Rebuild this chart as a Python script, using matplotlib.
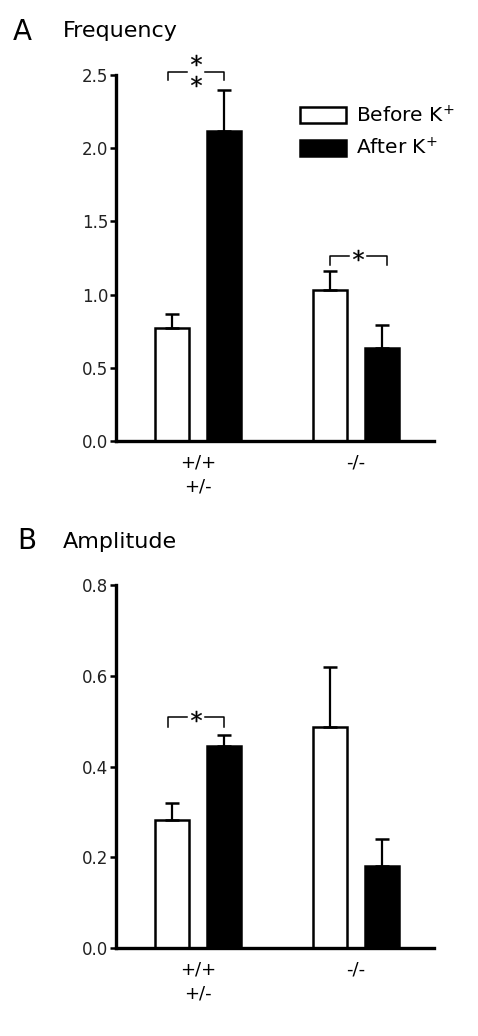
import numpy as np
import matplotlib
matplotlib.use("Agg")
from matplotlib import pyplot as plt
from matplotlib.patches import Patch

plt.rcParams['font.family'] = ['DejaVu Sans']

# Data
genotypes = ["+/+\n+/-", "-/-"]
freq_before = [0.77, 1.03]
freq_before_err = [0.10, 0.13]
freq_after = [2.12, 0.635]
freq_after_err = [0.28, 0.155]

amp_before = [0.282, 0.488]
amp_before_err = [0.038, 0.132]
amp_after = [0.445, 0.181]
amp_after_err = [0.024, 0.059]

freq_ticks = [0.0, 0.5, 1.0, 1.5, 2.0, 2.5]
amp_ticks = [0.0, 0.2, 0.4, 0.6, 0.8]

x = np.arange(len(genotypes))
offset = 0.165
width = 0.215


def star(ax, xs, ys):
  ax.plot([xs], [ys], marker="$*$", ms=8, color="black", mew=0.2,
          linestyle="none", clip_on=False)


def bracket(ax, x1, x2, y, drop, gap=0.055):
  """Significance bracket with a star sitting in a gap of the line."""
  xm = (x1 + x2) / 2
  kw = dict(color="black", lw=1.1, clip_on=False)
  ax.plot([x1, x1, xm - gap], [y - drop, y, y], **kw)
  ax.plot([xm + gap, x2, x2], [y, y, y - drop], **kw)
  return xm


def bar_panel(ax, before, before_err, after, after_err, ylim, ticks):
  kw = dict(width=width, edgecolor="black", linewidth=1.8, zorder=2)
  ekw = dict(elinewidth=1.6, capthick=1.8)
  ax.bar(x - offset, before, color="white",
         yerr=[[0] * len(before), before_err], capsize=5, error_kw=ekw, **kw)
  ax.bar(x + offset, after, color="black",
         yerr=[[0] * len(after), after_err], capsize=5, error_kw=ekw, **kw)

  ax.set_xlim(-0.52, 1.495)
  ax.set_ylim(*ylim)
  ax.set_yticks(ticks)
  ax.set_yticklabels(["%.1f" % t for t in ticks], fontsize=12, color="#222222")
  ax.set_xticks(x)
  ax.set_xticklabels(genotypes, fontsize=13, linespacing=1.45)
  ax.tick_params(axis="x", length=0, pad=9)
  ax.tick_params(axis="y", length=4, width=1.8, pad=1.5)
  for s in ["top", "right"]:
    ax.spines[s].set_visible(False)
  for s in ["left", "bottom"]:
    ax.spines[s].set_linewidth(2.4)


fig = plt.figure(figsize=(4.78, 10.36), dpi=100)

axA = fig.add_axes([0.2427, 0.5743, 0.665, 0.3533])
bar_panel(axA, freq_before, freq_before_err, freq_after, freq_after_err,
          (0, 2.5), freq_ticks)
xm = bracket(axA, x[0] - offset - 0.025, x[0] + offset, 2.52, 0.055)
star(axA, xm, 2.46)
star(axA, xm, 2.60)
xm = bracket(axA, x[1] - offset, x[1] + offset + 0.03, 1.264, 0.06)
star(axA, xm, 1.27)

legend_handles = [Patch(facecolor="white", edgecolor="black", linewidth=1.8),
                  Patch(facecolor="black", edgecolor="black", linewidth=1.8)]
axA.legend(legend_handles, ["Before K$^{+}$", "After K$^{+}$"],
           loc="upper left", bbox_to_anchor=(0.578, 0.918), frameon=False,
           fontsize=14.5, handlelength=2.3, handleheight=0.85,
           handletextpad=0.5, labelspacing=0.55, borderpad=0,
           borderaxespad=0)

fig.text(0.027, 0.9614, "A", fontsize=20)
fig.text(0.132, 0.9643, "Frequency", fontsize=16)

axB = fig.add_axes([0.2427, 0.0849, 0.665, 0.3504])
bar_panel(axB, amp_before, amp_before_err, amp_after, amp_after_err,
          (0, 0.8), amp_ticks)
xm = bracket(axB, x[0] - offset - 0.025, x[0] + offset, 0.51, 0.023)
star(axB, xm, 0.512)

fig.text(0.036, 0.470, "B", fontsize=20)
fig.text(0.132, 0.4715, "Amplitude", fontsize=16)

fig.savefig("out.png", dpi=100)
